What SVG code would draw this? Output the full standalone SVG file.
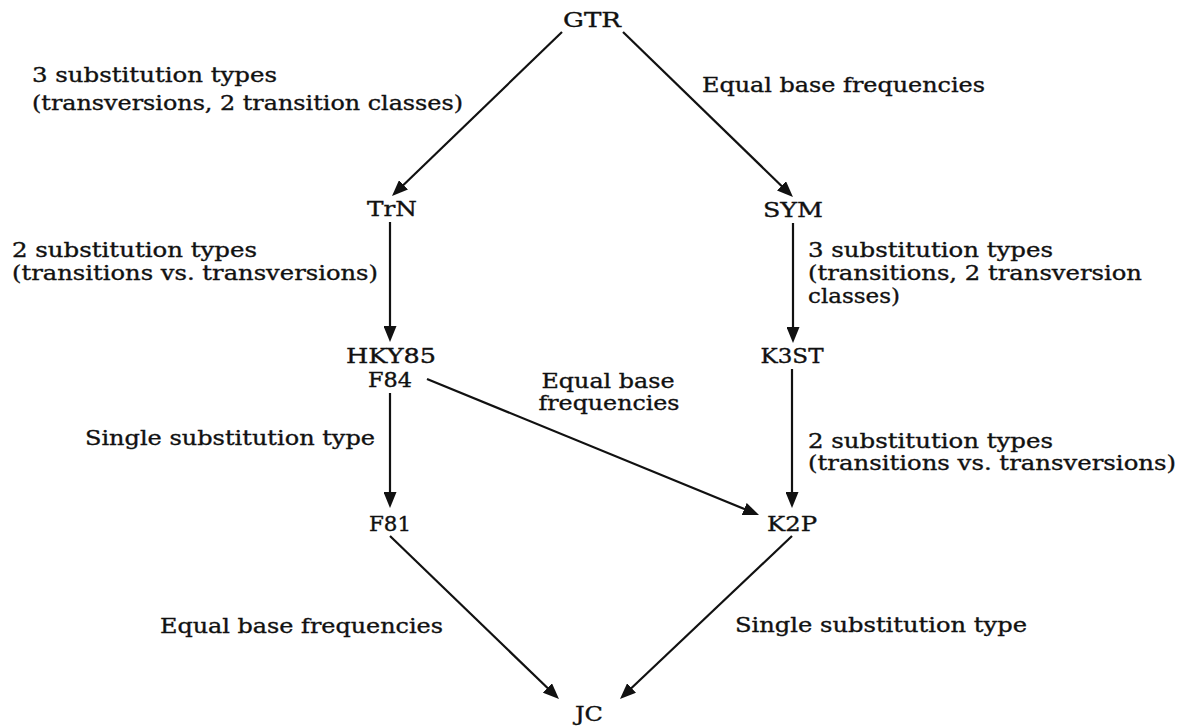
<svg xmlns="http://www.w3.org/2000/svg" width="1181" height="726" viewBox="0 0 1181 726">
<style>
text{font-family:"DejaVu Serif","Liberation Serif",serif;font-size:20px;fill:#111111;stroke:#111111;stroke-width:0.35}
.m{text-anchor:middle}
.c{stroke:#111111;stroke-width:2.2;fill:none}
</style>
<defs>
<marker id="ah" markerUnits="userSpaceOnUse" markerWidth="16" markerHeight="13" refX="7" refY="6.5" orient="auto">
<path d="M0,0 L16,6.5 L0,13 z" fill="#111111"/>
</marker>
</defs>
<rect width="1181" height="726" fill="#ffffff"/>
<g id="connectors">
<line class="c" x1="562" y1="32" x2="398.5" y2="189.7" marker-end="url(#ah)"/>
<line class="c" x1="623" y1="32" x2="786.5" y2="190.7" marker-end="url(#ah)"/>
<line class="c" x1="390" y1="222" x2="390" y2="333" marker-end="url(#ah)"/>
<line class="c" x1="793" y1="223" x2="793" y2="334" marker-end="url(#ah)"/>
<line class="c" x1="390" y1="393" x2="390" y2="499" marker-end="url(#ah)"/>
<line class="c" x1="792" y1="369" x2="792" y2="499" marker-end="url(#ah)"/>
<line class="c" x1="427" y1="379" x2="750.7" y2="511.6" marker-end="url(#ah)"/>
<line class="c" x1="390" y1="536" x2="552.5" y2="692.8" marker-end="url(#ah)"/>
<line class="c" x1="792" y1="536" x2="626.5" y2="692.8" marker-end="url(#ah)"/>
</g>
<g id="labels">
<text x="32" y="82" textLength="245" lengthAdjust="spacingAndGlyphs">3 substitution types</text>
<text x="32" y="110" textLength="431" lengthAdjust="spacingAndGlyphs">(transversions, 2 transition classes)</text>
<text x="702" y="92" textLength="283" lengthAdjust="spacingAndGlyphs">Equal base frequencies</text>
<text x="12" y="257" textLength="245" lengthAdjust="spacingAndGlyphs">2 substitution types</text>
<text x="12" y="280" textLength="366" lengthAdjust="spacingAndGlyphs">(transitions vs. transversions)</text>
<text x="808" y="257" textLength="245" lengthAdjust="spacingAndGlyphs">3 substitution types</text>
<text x="808" y="280" textLength="334" lengthAdjust="spacingAndGlyphs">(transitions, 2 transversion</text>
<text x="808" y="303" textLength="92" lengthAdjust="spacingAndGlyphs">classes)</text>
<text class="m" x="608" y="388" textLength="133" lengthAdjust="spacingAndGlyphs">Equal base</text>
<text class="m" x="609" y="410" textLength="141" lengthAdjust="spacingAndGlyphs">frequencies</text>
<text x="85" y="445" textLength="290" lengthAdjust="spacingAndGlyphs">Single substitution type</text>
<text x="808" y="448" textLength="245" lengthAdjust="spacingAndGlyphs">2 substitution types</text>
<text x="808" y="470" textLength="368" lengthAdjust="spacingAndGlyphs">(transitions vs. transversions)</text>
<text x="160" y="633" textLength="283" lengthAdjust="spacingAndGlyphs">Equal base frequencies</text>
<text x="735" y="632" textLength="292" lengthAdjust="spacingAndGlyphs">Single substitution type</text>
</g>
<g id="GTR"><text class="m" x="592" y="27" textLength="58" lengthAdjust="spacingAndGlyphs">GTR</text></g>
<g id="TrN"><text class="m" x="392" y="216" textLength="50" lengthAdjust="spacingAndGlyphs">TrN</text></g>
<g id="SYM"><text class="m" x="793" y="217" textLength="60" lengthAdjust="spacingAndGlyphs">SYM</text></g>
<g id="HKY85-F84">
<text class="m" x="391" y="363" textLength="90" lengthAdjust="spacingAndGlyphs">HKY85</text>
<text class="m" x="390" y="387" textLength="44" lengthAdjust="spacingAndGlyphs">F84</text>
</g>
<g id="K3ST"><text class="m" x="792" y="363" textLength="63" lengthAdjust="spacingAndGlyphs">K3ST</text></g>
<g id="F81"><text class="m" x="390" y="531" textLength="42" lengthAdjust="spacingAndGlyphs">F81</text></g>
<g id="K2P"><text class="m" x="792" y="531" textLength="50" lengthAdjust="spacingAndGlyphs">K2P</text></g>
<g id="JC"><text class="m" x="589" y="721" textLength="28" lengthAdjust="spacingAndGlyphs">JC</text></g>
</svg>
